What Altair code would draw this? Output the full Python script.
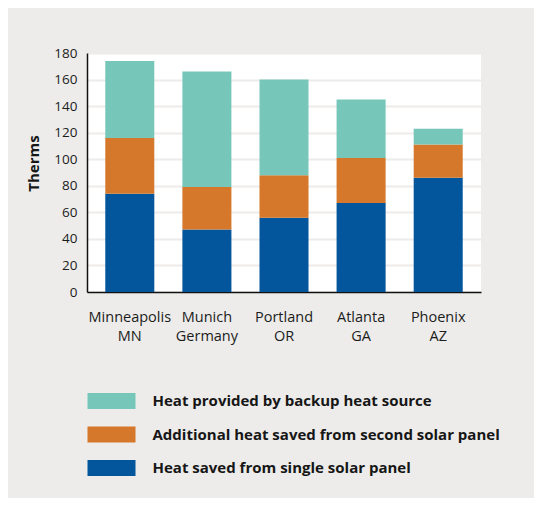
import altair as alt
import pandas as pd

cities = ["Minneapolis", "Munich", "Portland", "Atlanta", "Phoenix"]
regions = ["MN", "Germany", "OR", "GA", "AZ"]
series = [
    "Heat provided by backup heat source",
    "Additional heat saved from second solar panel",
    "Heat saved from single solar panel",
]
colors = ["#76C7BA", "#D5782B", "#03569B"]
single_panel = [74, 47, 56, 67, 86]
second_panel = [42, 32, 32, 34, 25]
backup_source = [58, 87, 72, 44, 12]
y_ticks = [0, 20, 40, 60, 80, 100, 120, 140, 160, 180]

labels = [c + "\n" + r for c, r in zip(cities, regions)]
rows = []
for i, lab in enumerate(labels):
    rows.append({"place": lab, "series": series[2], "therms": single_panel[i], "rank": 0})
    rows.append({"place": lab, "series": series[1], "therms": second_panel[i], "rank": 1})
    rows.append({"place": lab, "series": series[0], "therms": backup_source[i], "rank": 2})
df = pd.DataFrame(rows)

chart = (
    alt.Chart(df)
    .mark_bar()
    .encode(
        x=alt.X(
            "place:N",
            sort=labels,
            scale=alt.Scale(paddingInner=0.364, paddingOuter=0.237),
            axis=alt.Axis(
                title=None,
                labelAngle=0,
                labelExpr="split(datum.value, '\\n')",
                labelLineHeight=19,
                labelFontSize=14.5,
                labelBaseline="top",
                labelPadding=18,
                ticks=False,
                domainColor="#111111",
                domainWidth=1.5,
                grid=False,
            ),
        ),
        y=alt.Y(
            "therms:Q",
            stack="zero",
            scale=alt.Scale(domain=[0, 180], nice=False),
            axis=alt.Axis(
                title="Therms",
                values=y_ticks,
                ticks=False,
                labelPadding=10,
                labelFontSize=13.5,
                titleFontSize=15,
                titleFontWeight="bold",
                titlePadding=12,
                titleY=110,
                domainColor="#111111",
                domainWidth=1.5,
                gridColor="#EDECEA",
                gridWidth=2,
            ),
        ),
        color=alt.Color(
            "series:N",
            scale=alt.Scale(domain=series, range=colors),
            title=None,
            legend=alt.Legend(
                orient="none",
                legendX=16.5,
                legendY=340,
                padding=0,
                symbolType="M-3,-1H3V1H-3Z",
                symbolSize=256,
                symbolStrokeWidth=0,
                symbolOpacity=1,
                labelFontSize=15,
                labelFontWeight="bold",
                labelColor="#161616",
                labelOffset=33,
                rowPadding=17.5,
                labelLimit=500,
            ),
        ),
        order=alt.Order("rank:Q", sort="ascending"),
    )
    .properties(
        width=394,
        height=239,
        autosize=alt.AutoSizeParams(type="none"),
        padding={"left": 79, "top": 45, "right": 53, "bottom": 206},
        background="#EDECEA",
    )
    .configure(font="Open Sans")
    .configure_view(fill="white", stroke=None)
    .configure_axis(labelColor="#1c1c1c", titleColor="#161616", labelFont="Open Sans")
)

chart.save("out.html", embed_options={"renderer": "svg", "actions": False})
